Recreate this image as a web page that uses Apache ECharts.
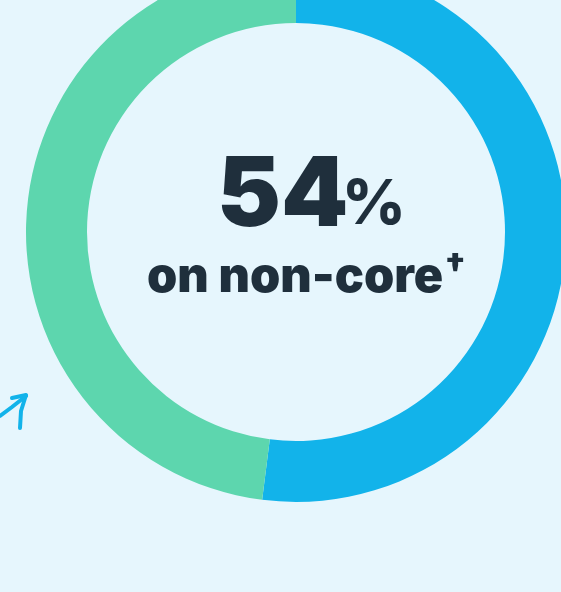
<!DOCTYPE html>
<html><head><meta charset="utf-8">
<script src="https://cdn.jsdelivr.net/npm/echarts@6/dist/echarts.min.js"></script>
<style>html,body{margin:0;padding:0;background:#e6f6fd;}#c{width:561px;height:592px;}</style>
</head><body><div id="c"></div>
<script>
const categories = ['Non-core', 'Core'];
const values = [52, 48];
const colors = ['#12b3ea', '#5dd6ae'];
const headline = '54';
const subline = 'on non-core';

const FONT = 'Inter, Liberation Sans, sans-serif';
const INK = '#1f2f3c';
const chart = echarts.init(document.getElementById('c'));
chart.setOption({
  backgroundColor: '#e6f6fd',
  animation: false,
  series: [{
    type: 'pie',
    center: [296, 232],
    radius: [209, 270],
    startAngle: 90,
    clockwise: true,
    silent: true,
    label: { show: false },
    labelLine: { show: false },
    itemStyle: { borderWidth: 0 },
    data: categories.map((c, i) => ({ name: c, value: values[i], itemStyle: { color: colors[i] } }))
  }],
  graphic: [
    {
      type: 'text', left: 217, top: 149,
      style: { text: headline, fontSize: 96, fontWeight: 900, fontFamily: FONT, fill: INK, letterSpacing: -11 }
    },
    {
      type: 'text', left: 342, top: 174,
      style: { text: '%', fontSize: 62, fontWeight: 800, fontFamily: FONT, fill: INK }
    },
    {
      type: 'text', left: 147, top: 253,
      style: { text: subline, fontSize: 48.5, fontWeight: 900, fontFamily: FONT, fill: INK }
    },
    {
      type: 'text', left: 444, top: 251,
      style: { text: '†', fontSize: 34, fontWeight: 900, fontFamily: FONT, fill: INK }
    },
    {
      type: 'polyline',
      shape: { points: [[0, 416], [12, 407], [26, 396]] },
      style: { stroke: '#12b3ea', lineWidth: 4, lineCap: 'round', fill: null }
    },
    {
      type: 'polyline',
      shape: { points: [[12, 398], [26, 395], [21, 411], [20, 428]] },
      style: { stroke: '#12b3ea', lineWidth: 4, lineCap: 'round', lineJoin: 'round', fill: null }
    }
  ]
});
</script></body></html>
